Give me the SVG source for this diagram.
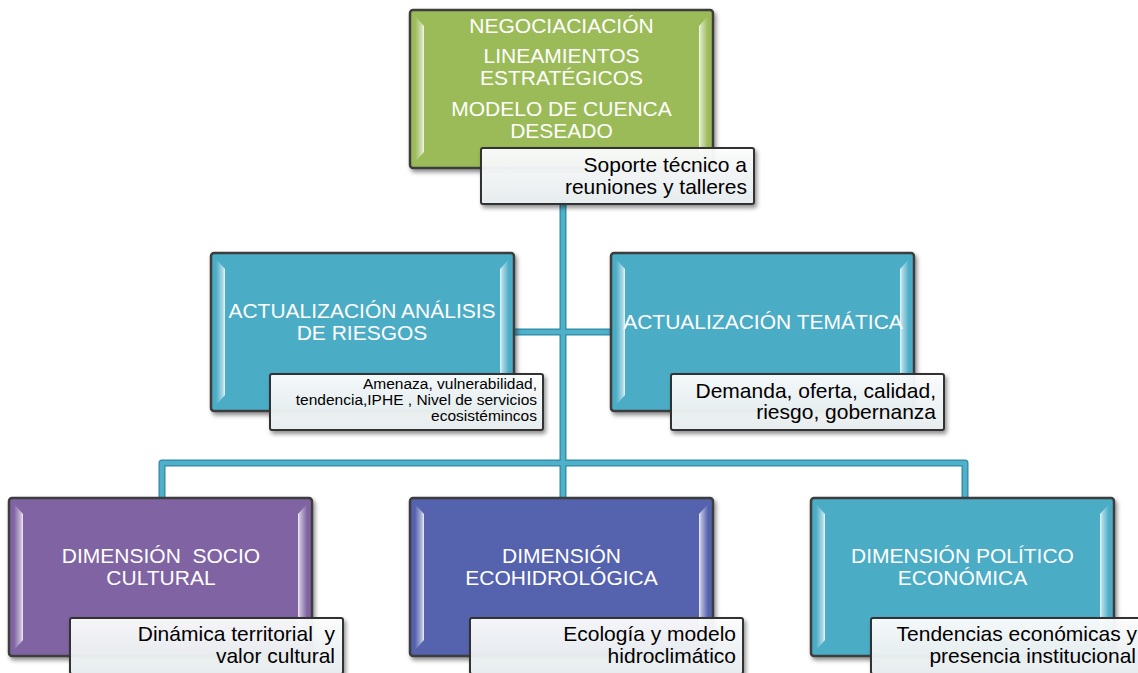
<svg xmlns="http://www.w3.org/2000/svg" xmlns:xlink="http://www.w3.org/1999/xlink" width="1138" height="673" viewBox="0 0 1138 673">
<style>
.t{font-family:"Liberation Sans",Arial,sans-serif;font-size:21px;fill:#ffffff;text-anchor:middle}
.s{font-family:"Liberation Sans",Arial,sans-serif;font-size:21px;fill:#000000;text-anchor:end}
.ss{font-family:"Liberation Sans",Arial,sans-serif;font-size:15.5px;fill:#000000;text-anchor:end}
.cw{fill:none;stroke:#2f8aa3;stroke-width:7;stroke-linejoin:round;stroke-linecap:butt}
.c{fill:none;stroke:#4fb0c9;stroke-width:4.5;stroke-linejoin:round;stroke-linecap:butt}
</style>
<defs>
<filter id="sh" x="-10%" y="-10%" width="125%" height="130%">
<feDropShadow dx="2" dy="3" stdDeviation="2" flood-color="#000" flood-opacity="0.45"/>
</filter>
<linearGradient id="gl" x1="0" y1="0" x2="1" y2="0">
<stop offset="0" stop-color="#fff" stop-opacity="0"/>
<stop offset="0.75" stop-color="#fff" stop-opacity="0.55"/>
<stop offset="1" stop-color="#fff" stop-opacity="0.9"/>
</linearGradient>
<linearGradient id="gr" x1="1" y1="0" x2="0" y2="0">
<stop offset="0" stop-color="#fff" stop-opacity="0"/>
<stop offset="0.75" stop-color="#fff" stop-opacity="0.55"/>
<stop offset="1" stop-color="#fff" stop-opacity="0.9"/>
</linearGradient>
<linearGradient id="gs" x1="0" y1="0" x2="0" y2="1">
<stop offset="0" stop-color="#ffffff"/>
<stop offset="1" stop-color="#e9eff1"/>
</linearGradient>
<g id="box">
<rect x="0" y="0" width="303" height="158" rx="3" fill="currentColor" stroke="#3d3d3d" stroke-width="2.5"/>
<polygon points="5,6 14,16 14,142 5,152" fill="url(#gl)"/>
<polygon points="298,6 289,16 289,142 298,152" fill="url(#gr)"/>
</g>
<g id="sub">
<rect x="0" y="0" width="273" height="56" rx="2" fill="url(#gs)" fill-opacity="0.93" stroke="#333" stroke-width="2"/>
</g>
</defs>
<rect width="1138" height="673" fill="#ffffff"/>

<g id="connectors">
<path class="cw" d="M563,200 V498 M513,332 H612 M162,498 V463 H965 V498"/>
<path class="c" d="M563,200 V498 M513,332 H612 M162,498 V463 H965 V498"/>
</g>

<g id="negociacion">
<use xlink:href="#box" x="410" y="10" style="color:#9bbb59" filter="url(#sh)"/>
<text class="t" x="561.5" y="33">NEGOCIACIACIÓN</text>
<text class="t" x="561.5" y="63">LINEAMIENTOS</text>
<text class="t" x="561.5" y="85">ESTRATÉGICOS</text>
<text class="t" x="561.5" y="116">MODELO DE CUENCA</text>
<text class="t" x="561.5" y="138">DESEADO</text>
<use xlink:href="#sub" x="481" y="148" filter="url(#sh)"/>
<text class="s" x="747" y="172">Soporte técnico a</text>
<text class="s" x="747" y="194">reuniones y talleres</text>
</g>

<g id="riesgos">
<use xlink:href="#box" x="211" y="253" style="color:#4bacc6" filter="url(#sh)"/>
<text class="t" x="362" y="318">ACTUALIZACIÓN ANÁLISIS</text>
<text class="t" x="362" y="340">DE RIESGOS</text>
<use xlink:href="#sub" x="270" y="374" filter="url(#sh)"/>
<text class="ss" x="537" y="389">Amenaza, vulnerabilidad,</text>
<text class="ss" x="537" y="405">tendencia,IPHE , Nivel de servicios</text>
<text class="ss" x="537" y="421">ecosistémincos</text>
</g>

<g id="tematica">
<use xlink:href="#box" x="611" y="253" style="color:#4bacc6" filter="url(#sh)"/>
<text class="t" x="763" y="329">ACTUALIZACIÓN TEMÁTICA</text>
<use xlink:href="#sub" x="671" y="374" filter="url(#sh)"/>
<text class="s" x="936" y="398">Demanda, oferta, calidad,</text>
<text class="s" x="936" y="419">riesgo, gobernanza</text>
</g>

<g id="socio">
<use xlink:href="#box" x="9" y="498" style="color:#8064a2" filter="url(#sh)"/>
<text class="t" x="161" y="563" xml:space="preserve">DIMENSIÓN  SOCIO</text>
<text class="t" x="161" y="585">CULTURAL</text>
<use xlink:href="#sub" x="70" y="618" filter="url(#sh)"/>
<text class="s" x="335" y="641" xml:space="preserve">Dinámica territorial  y</text>
<text class="s" x="335" y="663">valor cultural</text>
</g>

<g id="ecohidrologica">
<use xlink:href="#box" x="410" y="498" style="color:#5462ae" filter="url(#sh)"/>
<text class="t" x="561.5" y="563">DIMENSIÓN</text>
<text class="t" x="561.5" y="585">ECOHIDROLÓGICA</text>
<use xlink:href="#sub" x="470" y="618" filter="url(#sh)"/>
<text class="s" x="736" y="641">Ecología y modelo</text>
<text class="s" x="736" y="663">hidroclimático</text>
</g>

<g id="politico">
<use xlink:href="#box" x="811" y="498" style="color:#4bacc6" filter="url(#sh)"/>
<text class="t" x="962.5" y="563">DIMENSIÓN POLÍTICO</text>
<text class="t" x="962.5" y="585">ECONÓMICA</text>
<use xlink:href="#sub" x="871" y="618" filter="url(#sh)"/>
<text class="s" x="1137" y="641">Tendencias económicas y</text>
<text class="s" x="1136" y="663">presencia institucional</text>
</g>
</svg>
